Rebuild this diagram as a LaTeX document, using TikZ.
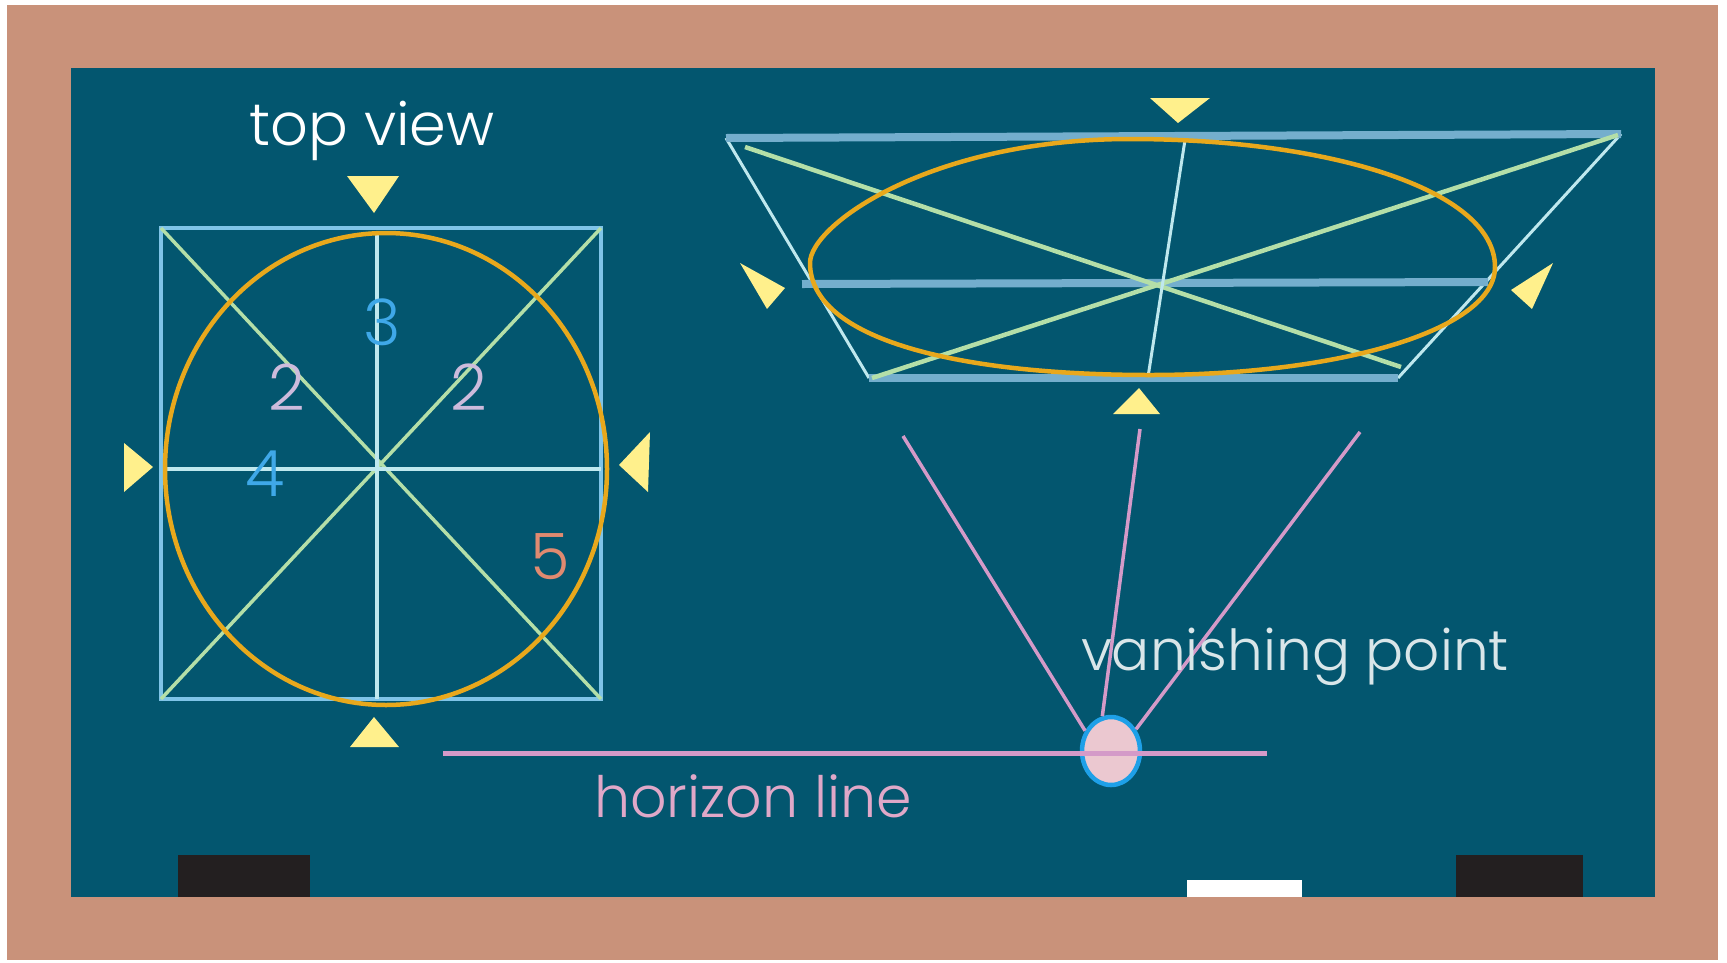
\documentclass[tikz,border=0pt]{standalone}
\usepackage{fontspec}
\setmainfont{Poppins Light}
\usetikzlibrary{
  positioning,
  shapes.geometric
}
\definecolor{wood}{HTML}{C9927A}
\definecolor{board}{HTML}{03566F}
\definecolor{eraser}{HTML}{231F20}
\definecolor{skyline}{HTML}{7FC4E8}
\definecolor{paleline}{HTML}{BFE8EE}
\definecolor{midline}{HTML}{74AECD}
\definecolor{diagline}{HTML}{B4DFA8}
\definecolor{curveline}{HTML}{E8A81C}
\definecolor{markyellow}{HTML}{FFF08C}
\definecolor{pinkline}{HTML}{D49AC8}
\definecolor{lavender}{HTML}{CDBBDC}
\definecolor{numblue}{HTML}{3FA8E8}
\definecolor{salmon}{HTML}{E08A70}
\definecolor{rosetext}{HTML}{E0A8C8}
\definecolor{spotfill}{HTML}{EBC8D0}
\definecolor{spotedge}{HTML}{1EA0E8}

\begin{document}
\begin{tikzpicture}[
  x=1pt, y=-1pt,
  edgeline/.style={draw=skyline, line width=4.5pt},
  thickedge/.style={draw=midline, line width=8pt},
  thinedge/.style={draw=paleline, line width=3pt},
  diagonal/.style={draw=diagline, line width=3.5pt},
  curve/.style={draw=curveline, line width=4.5pt},
  marker/.style={fill=markyellow, draw=none},
  sight/.style={draw=pinkline, line width=3.5pt},
  number/.style={font=\fontsize{64}{64}\selectfont, anchor=base, inner sep=0pt},
  caption/.style={anchor=base, inner sep=0pt}
]
  \useasboundingbox (0,0) rectangle (1727,962);

  % Frame and board
  \fill[wood] (7,5) rectangle (1718,960);
  \fill[board] (71,68) rectangle (1655,897);
  \fill[eraser] (178,855) rectangle (310,897);
  \fill[eraser] (1456,855) rectangle (1583,897);
  \fill[white] (1187,880) rectangle (1302,897);

  % Top view square
  \coordinate (sqnw) at (161,228);
  \coordinate (sqne) at (601,228);
  \coordinate (sqse) at (601,699);
  \coordinate (sqsw) at (161,699);
  \coordinate (sqn) at (377,232);
  \coordinate (sqs) at (377,699);
  \coordinate (sqw) at (167,469);
  \coordinate (sqe) at (601,469);

  \draw[edgeline] (sqnw) -- (sqne) -- (sqse) -- (sqsw) -- cycle;
  \draw[diagonal] (sqnw) -- (sqse);
  \draw[diagonal] (sqne) -- (sqsw);
  \draw[thinedge, line width=4pt] (sqn) -- (sqs);
  \draw[thinedge, line width=4pt] (sqw) -- (sqe);
  \draw[curve] (386,469) ellipse [x radius=221, y radius=236];

  % Top view markers
  \fill[marker] (347,176) -- (399,176) -- (374,213) -- cycle;
  \fill[marker] (374,717) -- (350,747) -- (399,747) -- cycle;
  \fill[marker] (124,443) -- (153,467) -- (124,492) -- cycle;
  \fill[marker] (650,432) -- (619,465) -- (648,492) -- cycle;

  % Perspective view
  \coordinate (trnw) at (726,138);
  \coordinate (trne) at (1621,134);
  \coordinate (trse) at (1398,378);
  \coordinate (trsw) at (869,378);

  \draw[thinedge] (trnw) -- (trsw);
  \draw[thinedge] (trne) -- (trse);
  \draw[thickedge] (trnw) -- (trne);
  \draw[thickedge] (trsw) -- (trse);
  \draw[thickedge] (802,284) -- (1488,282);
  \draw[diagonal, line width=4.5pt] (745,147) -- (1401,367);
  \draw[diagonal, line width=4.5pt] (1618,135) -- (872,378);
  \draw[thinedge] (1185,140) -- (1148,377);
  \draw[curve] (810,263) .. controls (810,225) and (930,139) .. (1130,139)
    .. controls (1330,139) and (1495,190) .. (1495,267)
    .. controls (1495,330) and (1340,375) .. (1150,375)
    .. controls (960,375) and (810,340) .. (810,263) -- cycle;

  % Perspective markers
  \fill[marker] (1150,98) -- (1210,98) -- (1178,123) -- cycle;
  \fill[marker] (1139,388) -- (1113,414) -- (1160,414) -- cycle;
  \fill[marker] (740,263) -- (785,288) -- (767,309) -- cycle;
  \fill[marker] (1553,263) -- (1511,290) -- (1532,309) -- cycle;

  % Vanishing point and horizon
  \node[ellipse, draw=spotedge, line width=4.5pt, fill=spotfill,
    minimum width=58pt, minimum height=68pt, inner sep=0pt] (vanish) at (1111,751) {};
  \coordinate (horizonw) at (443,753);
  \coordinate (horizone) at (1267,753);
  \coordinate (sighta) at (903,436);
  \coordinate (sightb) at (1140,429);
  \coordinate (sightc) at (1360,432);

  \draw[sight, line width=5pt] (horizonw) -- (horizone);
  \draw[sight] (sighta) -- (vanish.142);
  \draw[sight] (sightb) -- (vanish.104);
  \draw[sight] (sightc) -- (vanish.41);

  % Labels
  \node[caption, text=white, font=\fontsize{59}{60}\selectfont] (topview) at (372,145) {top view};
  \node[caption, text=white!85!board, font=\fontsize{56.5}{60}\selectfont] (vanishing) at (1295,670) {vanishing point};
  \node[caption, text=rosetext, font=\fontsize{57}{60}\selectfont] (horizon) at (753,817) {horizon line};
  \node[number, text=lavender] (twoa) at (287,410) {2};
  \node[number, text=lavender] (twob) at (469,410) {2};
  \node[number, text=numblue] (three) at (382,345) {3};
  \node[number, text=numblue] (four) at (265,496) {4};
  \node[number, text=salmon] (five) at (550,579) {5};
\end{tikzpicture}
\end{document}
